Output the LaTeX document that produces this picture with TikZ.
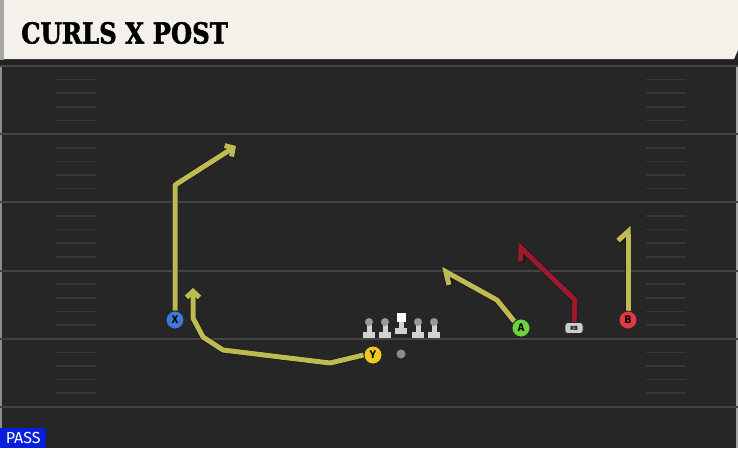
\documentclass[tikz,border=0pt]{standalone}
\usepackage{fontspec}
\setmainfont{Fira Sans}
\newfontfamily\titlefont[FakeStretch=0.84, FakeBold=1.6]{DejaVu Serif}
\usetikzlibrary{arrows.meta}
\definecolor{field}{RGB}{38,38,38}
\definecolor{yardline}{RGB}{68,68,68}
\definecolor{hash}{RGB}{55,55,55}
\definecolor{paper}{RGB}{244,241,234}
\definecolor{route}{RGB}{190,186,84}
\definecolor{rbroute}{RGB}{160,24,44}
\definecolor{xblue}{RGB}{63,120,214}
\definecolor{yyellow}{RGB}{240,200,30}
\definecolor{agreen}{RGB}{110,210,60}
\definecolor{bred}{RGB}{225,55,65}
\definecolor{passblue}{RGB}{8,30,220}

\begin{document}
\begin{tikzpicture}
[x=1pt, y=-1pt,
player/.style={circle, draw=black!85, line width=0.8pt, minimum size=18pt, inner sep=0pt, font=\bfseries\fontsize{11}{11}\selectfont},
back/.style={rectangle, rounded corners=3pt, fill=black!20, draw=black!85, line width=0.6pt, minimum width=18pt, minimum height=11pt, inner sep=0pt, font=\bfseries\fontsize{6}{6}\selectfont},
run/.style={route, line width=5pt, line join=round, preaction={draw=black!90, line width=6.4pt}},
curl/.style={run, -{Straight Barb[harpoon, length=9pt, width=20pt]}},
cut/.style={run, -{Straight Barb[length=6pt, width=13pt]}},
hashmark/.style={hash, line width=1.6pt},
lineman/.style={black!18}]

\useasboundingbox (0,0) rectangle (738,448);

%Field
\fill[field] (0,0) rectangle (738,448);
\draw[black!45, line width=1.5pt] (1,60) -- (1,448);
\draw[black!35, line width=1.5pt] (737,60) -- (737,448);
\foreach \i in {0,...,5}{
  \draw[yardline, line width=2pt] (0,{66+68.2*\i}) -- (738,{66+68.2*\i});
}
\foreach \i in {0,...,4}{
  \foreach \k in {1,...,4}{
    \draw[hashmark] (56,{66+68.2*\i+13.6*\k}) -- (96,{66+68.2*\i+13.6*\k});
    \draw[hashmark] (646,{66+68.2*\i+13.6*\k}) -- (686,{66+68.2*\i+13.6*\k});
  }
}

%Title
\fill[black!10!field] (0,59) rectangle (738,65);
\fill[black!35] (0,0) rectangle (4,60);
\fill[paper] (4,0) -- (738,0) -- (738,50) -- (734,59) -- (4,59) -- cycle;
\node[anchor=west, inner sep=0pt, font=\titlefont\bfseries\fontsize{29}{29}\selectfont] (title) at (21,33) {CURLS X POST};

%Line
\foreach \x in {369,385,418,434}{
  \fill[lineman] (\x-6,332) rectangle (\x+6,338);
  \fill[lineman] (\x-2.5,323) rectangle (\x+2.5,333);
  \fill[black!40] (\x,322) circle (4pt);
}
\fill[lineman] (395,328) rectangle (407,334);
\fill[lineman] (398.5,320) rectangle (403.5,329);
\fill[white] (396.5,313) rectangle (405.5,322);

%Nodes
\node[player, fill=xblue] (X) at (175,320) {X};
\node[player, fill=yyellow] (Y) at (373,355) {Y};
\node[player, fill=agreen] (A) at (521,328) {A};
\node[player, fill=bred] (B) at (628,320) {B};
\node[back] (RB) at (574,328) {RB};
\node[circle, fill=black!45, minimum size=9pt, inner sep=0pt] (QB) at (401,354) {};
\node[rectangle, fill=passblue, text=white, anchor=south west, minimum width=46pt, minimum height=20pt, inner sep=0pt, font=\fontsize{16}{16}\selectfont] (pass) at (0,448) {PASS};

\coordinate (xbreak) at (175,185);
\coordinate (xend) at (236,146);
\coordinate (ydrag) at (330,363);
\coordinate (ybend) at (223,350);
\coordinate (yturn) at (203,337);
\coordinate (yup) at (193,318);
\coordinate (yend) at (193,288);
\coordinate (abreak) at (497,300);
\coordinate (aend) at (441,269);
\coordinate (rbbreak) at (575,300);
\coordinate (rbend) at (517,244);
\coordinate (bend) at (628,226);

%Lines
\draw[cut] (X.north) -- (xbreak) -- (xend);
\draw[cut] (Y.west) -- (ydrag) -- (ybend) -- (yturn) -- (yup) -- (yend);
\draw[curl] (A.north west) -- (abreak) -- (aend);
\draw[curl, rbroute] (RB.north) -- (rbbreak) -- (rbend);
\draw[curl] (B.north) -- (bend);

%Redraw players on top
\node[player, fill=xblue] at (X) {X};
\node[player, fill=yyellow] at (Y) {Y};
\node[player, fill=agreen] at (A) {A};
\node[player, fill=bred] at (B) {B};
\node[back] at (RB) {RB};

\end{tikzpicture}
\end{document}
